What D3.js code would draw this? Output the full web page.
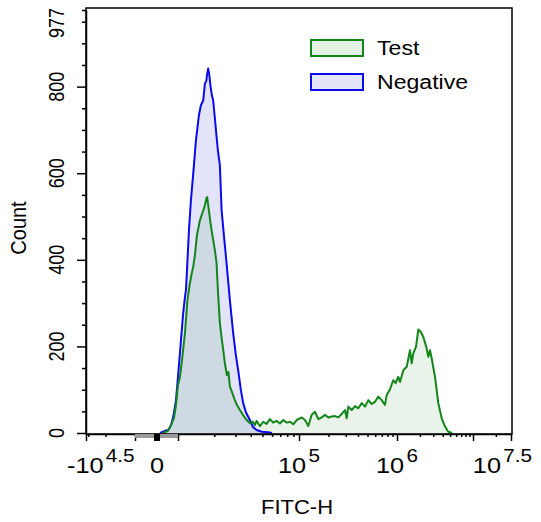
<!DOCTYPE html>
<html>
<head>
<meta charset="utf-8">
<script src="https://cdn.jsdelivr.net/npm/d3@7"></script>
<style>
  body { margin: 0; background: #fff; }
  svg { font-family: "Liberation Sans", Arial, sans-serif; }
</style>
</head>
<body>
<svg id="chart"></svg>
<script>
// FITC-H channel value and event count
const negValue = [93, 480, 1100, 2070, 3500, 6400, 10060, 10590, 11000, 11430, 11650,
  12330, 12800, 13380, 14090, 14920, 15490, 16190, 16400, 16720, 17200,
  17370, 17800, 18210, 18560, 19100, 19580, 20220, 20890, 21410, 22240,
  22980, 24000, 25260, 26910, 28640, 30150, 31500, 33170, 34650, 36480,
  39360, 41670, 44710, 49450, 55430, 59830];
const negCount = [0, 5, 7, 18, 38, 76, 138, 215, 272, 315, 330,
  468, 537, 599, 676, 734, 757, 768, 784, 807, 814,
  826, 842, 826, 803, 780, 768, 727, 684, 653, 618,
  515, 457, 392, 307, 231, 180, 145, 99, 69, 48,
  30, 14, 7, 3, 2, 0];

const testValue = [274, 1020, 2070, 4090, 6410, 10000, 10390, 10790, 11430, 11980,
  12560, 13050, 13380, 13820, 14360, 14920, 15200, 15790, 16190, 16720,
  17200, 17460, 18040, 18560, 18990, 19470, 20220, 20890, 21410, 22240,
  23100, 24000, 24450, 25410, 26150, 26910, 27950, 29590, 30730, 32540,
  34450, 36980, 39360, 41670, 43290, 44710, 47610, 50700, 54090, 57590,
  61320, 65410, 69660, 74180, 79140, 84620, 89740, 95720, 106600, 115100,
  124400, 134800, 145700, 157400, 170400, 184300, 199100, 215600, 233000, 251800,
  272700, 294700, 306600, 318600, 345000, 372800, 402800, 436300, 471600, 509500,
  552000, 596500, 644600, 698200, 754500, 785100, 848400, 916800, 969800, 1040000,
  1095000, 1211000, 1342000, 1483000, 1561000, 1639000, 1778000, 1907000, 2051000, 2219000,
  2460000, 2582000, 2718000, 2862000, 3162000, 3495000, 3875000, 4282000, 4732000, 5293000];
const testCount = [0, 5, 18, 35, 65, 111, 130, 168, 231, 307,
  346, 371, 384, 411, 457, 480, 491, 505, 514, 526,
  542, 545, 514, 487, 468, 450, 422, 392, 330, 254,
  215, 180, 161, 134, 141, 107, 95, 76, 65, 53,
  42, 30, 23, 26, 18, 28, 16, 26, 21, 32,
  24, 28, 22, 30, 24, 26, 20, 30, 36, 30,
  16, 42, 49, 32, 36, 42, 36, 38, 39, 36,
  44, 53, 34, 61, 53, 62, 57, 69, 61, 76,
  67, 72, 84, 76, 65, 88, 101, 122, 115, 130,
  118, 145, 153, 191, 161, 184, 199, 239, 234, 222,
  195, 176, 191, 172, 130, 69, 34, 15, 3, 0];

const seriesNames = ['Test', 'Negative'];

// axis ticks
const xMajor = [-31623, -10000, 10000, 100000, 1000000, 10000000, 31622777];
const xMinor = [-30000, -20000,
  20000, 30000, 40000, 50000, 60000, 70000, 80000, 90000,
  200000, 300000, 400000, 500000, 600000, 700000, 800000, 900000,
  2000000, 3000000, 4000000, 5000000, 6000000, 7000000, 8000000, 9000000,
  20000000];
const xLabelValues = [-31623, 0, 100000, 1000000, 31622777];
const xLabelBase = ['-10', '0', '10', '10', '10'];
const xLabelExp = ['4.5', '', '5', '6', '7.5'];

const yMajor = [0, 200, 400, 600, 800];
const yMinor = [50, 100, 150, 250, 300, 350, 450, 500, 550, 650, 700, 750, 850, 900, 950, 977];
const yLabels = [0, 200, 400, 600, 800, 977];

const width = 541, height = 522;
const margin = { top: 8, right: 29, bottom: 88, left: 86 };
const plotW = width - margin.left - margin.right;
const plotH = height - margin.top - margin.bottom;
const bottom = margin.top + plotH;

const svg = d3.select('#chart').attr('width', width).attr('height', height);

// biexponential-like display: linear-ish around zero, log further out
const x = d3.scaleSymlog().constant(100)
  .domain([-31623, -10000, 0, 10000, 100000, 1000000, 10000000, 31622777])
  .range([0, 49, 71, 92, 213, 311, 387, 425].map(d => d + margin.left));

const y = d3.scaleLinear()
  .domain([0, 977])
  .range([bottom - 1, margin.top + 2]);

const negRows = negValue.map((v, i) => ({ v: v, c: negCount[i] }));
const testRows = testValue.map((v, i) => ({ v: v, c: testCount[i] }));

const area = d3.area()
  .x(d => x(d.v))
  .y0(y(0))
  .y1(d => y(d.c));
const line = d3.line()
  .x(d => x(d.v))
  .y(d => y(d.c));

const blue = '#0a0aeb';
const green = '#13861a';
const blueFill = 'rgba(55,60,215,0.14)';
const greenFill = 'rgba(40,140,40,0.10)';

svg.append('path').datum(negRows).attr('d', area).attr('fill', blueFill);
svg.append('path').datum(testRows).attr('d', area).attr('fill', greenFill);
svg.append('path').datum(negRows).attr('d', line)
  .attr('fill', 'none').attr('stroke', blue).attr('stroke-width', 2).attr('stroke-linejoin', 'round');
svg.append('path').datum(testRows).attr('d', line)
  .attr('fill', 'none').attr('stroke', green).attr('stroke-width', 2).attr('stroke-linejoin', 'round');

// frame
svg.append('rect')
  .attr('x', margin.left).attr('y', margin.top)
  .attr('width', plotW).attr('height', plotH)
  .attr('fill', 'none').attr('stroke', '#000').attr('stroke-width', 1.5);

// x axis
const xg = svg.append('g').attr('transform', `translate(0,${bottom})`);
xg.call(d3.axisBottom(x).tickValues(xMajor).tickSize(7).tickSizeOuter(0).tickFormat(''));
const xgMinor = svg.append('g').attr('transform', `translate(0,${bottom})`);
xgMinor.call(d3.axisBottom(x).tickValues(xMinor).tickSize(3).tickSizeOuter(0).tickFormat(''));
xgMinor.select('.domain').remove();

// zero marker on the x axis
svg.append('rect')
  .attr('x', x(-10000)).attr('y', bottom)
  .attr('width', x(10000) - x(-10000)).attr('height', 4)
  .attr('fill', '#9a9a9a');
svg.append('rect')
  .attr('x', x(0) - 3).attr('y', bottom)
  .attr('width', 6).attr('height', 7)
  .attr('fill', '#000');

// y axis
const yg = svg.append('g').attr('transform', `translate(${margin.left},0)`);
yg.call(d3.axisLeft(y).tickValues(yMajor).tickSize(9).tickSizeOuter(0).tickFormat(''));
const ygMinor = svg.append('g').attr('transform', `translate(${margin.left},0)`);
ygMinor.call(d3.axisLeft(y).tickValues(yMinor).tickSize(4).tickSizeOuter(0).tickFormat(''));
ygMinor.select('.domain').remove();

svg.selectAll('.tick line, .domain').attr('stroke', '#000').attr('stroke-width', 1.5);

// x tick labels with superscript exponents
xLabelValues.forEach((v, i) => {
  const first = i === 0;
  const last = i === xLabelValues.length - 1;
  let tx = x(v), anchor = 'middle';
  if (first) { tx = x(v) - 19; anchor = 'start'; }
  if (last) { tx = x(v) + 21; anchor = 'end'; }
  const t = svg.append('text')
    .attr('transform', `translate(${tx},473) scale(1.15,1)`)
    .attr('text-anchor', anchor)
    .attr('font-size', 22)
    .attr('fill', '#000');
  t.append('tspan').text(xLabelBase[i]);
  if (xLabelExp[i]) {
    t.append('tspan').attr('dx', 2).attr('dy', -11).attr('font-size', 18).text(xLabelExp[i]);
  }
});

// y tick labels, rotated
yLabels.forEach(v => {
  const cy = Math.max(y(v), margin.top + 15);
  svg.append('text')
    .attr('transform', `translate(64,${cy}) scale(1.25,1) rotate(-90)`)
    .attr('text-anchor', 'middle')
    .attr('font-size', 18)
    .attr('fill', '#000')
    .text(v);
});

// axis titles
svg.append('text')
  .attr('transform', `translate(26,228) scale(1.12,1) rotate(-90)`)
  .attr('text-anchor', 'middle')
  .attr('font-size', 20)
  .text('Count');
svg.append('text')
  .attr('transform', `translate(297,514) scale(1.1,1)`)
  .attr('text-anchor', 'middle')
  .attr('font-size', 20)
  .text('FITC-H');

// legend
const legend = svg.append('g').attr('transform', 'translate(310,39)');
const legendStroke = [green, blue];
const legendFill = ['#e6f2e6', '#e4e5f8'];
seriesNames.forEach((name, i) => {
  const row = legend.append('g').attr('transform', `translate(0,${i * 34})`);
  row.append('rect')
    .attr('x', 1).attr('y', 1).attr('width', 52).attr('height', 16)
    .attr('fill', legendFill[i]).attr('stroke', legendStroke[i]).attr('stroke-width', 2);
  row.append('text')
    .attr('transform', 'translate(67,16) scale(1.1,1)')
    .attr('font-size', 21)
    .text(name);
});
</script>
</body>
</html>
